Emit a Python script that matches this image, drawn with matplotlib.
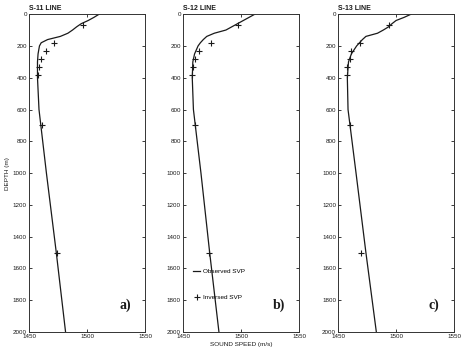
"""Observed vs inversed sound speed profiles for three survey lines."""

import matplotlib

matplotlib.use("Agg")
import matplotlib.pyplot as plt

plt.rcParams["font.family"] = ["Liberation Sans", "DejaVu Sans"]

# observed SVP (depth in m, sound speed in m/s)
obs_depth = [0, 20, 40, 60, 80, 100, 120, 140, 160, 180, 200, 250, 300, 400, 600, 1000, 1500, 2000]
s11_obs = [1510.5, 1506, 1501, 1495, 1491, 1487.5, 1483.5, 1477, 1466, 1460.5, 1459,
           1457.8, 1457.3, 1457.3, 1458.6, 1465, 1473.5, 1481.5]
s12_obs = [1512, 1507, 1502, 1497, 1492, 1487, 1477, 1470.5, 1467.5, 1465, 1463,
           1460, 1458.5, 1458, 1459, 1465.5, 1473, 1481]
s13_obs = [1513, 1507, 1500, 1496.5, 1493.5, 1489, 1484, 1474, 1471, 1468.5, 1466,
           1461.5, 1459, 1458, 1458.6, 1465.5, 1474, 1483]

# inversed SVP points
inv_depth = [70, 180, 230, 280, 330, 380, 700, 1500]
s11_inv = [1496.5, 1471.7, 1465, 1460.2, 1458.5, 1458, 1461.5, 1474]
s12_inv = [1497, 1474, 1463.5, 1460.2, 1458.5, 1458, 1460.3, 1472.5]
s13_inv = [1494, 1469, 1461, 1460, 1458, 1457.5, 1460.6, 1469.8]

titles = ["S-11 LINE", "S-12 LINE", "S-13 LINE"]
panel_tags = ["a)", "b)", "c)"]
x_ticks = [1450, 1500, 1550]
y_ticks = list(range(0, 2001, 200))

fig = plt.figure(figsize=(4.65, 3.52), dpi=100)
lefts = [0.0624, 0.3935, 0.727]
ink = "#1a1a1a"

for i, (obs, inv) in enumerate([(s11_obs, s11_inv), (s12_obs, s12_inv), (s13_obs, s13_inv)]):
    ax = fig.add_axes([lefts[i], 0.0568, 0.2495, 0.903])
    line, = ax.plot(obs, obs_depth, color=ink, linewidth=0.9, label="Observed SVP")
    pts, = ax.plot(inv, inv_depth, linestyle="none", marker="+", markersize=4.5,
                   markeredgewidth=0.8, color=ink, label="Inversed SVP")
    ax.set_xlim(1450, 1550)
    ax.set_ylim(2000, 0)
    ax.set_xticks(x_ticks)
    ax.set_yticks(y_ticks)
    ax.tick_params(direction="in", length=2.5, width=0.6, labelsize=4.5, pad=1.5,
                   top=True, right=True, colors=ink)
    for spine in ax.spines.values():
        spine.set_linewidth(0.7)
        spine.set_color("#333333")
    ax.set_title(titles[i], loc="left", fontsize=5, fontweight="semibold", pad=3, color=ink)
    ax.text(1533, 1830, panel_tags[i], fontsize=10, fontweight="bold",
            family=["Liberation Serif", "DejaVu Serif"], ha="center", va="center", color=ink)
    if i == 0:
        ax.set_ylabel("DEPTH (m)", fontsize=4.6, labelpad=2, color=ink)
    if i == 1:
        ax.set_xlabel("SOUND SPEED (m/s)", fontsize=4.6, labelpad=2, color=ink)
        ax.legend(handles=[line, pts], loc="center left", bbox_to_anchor=(0.09, 0.15),
                  frameon=False, fontsize=4.6, labelspacing=3.2, handlelength=1.1,
                  handletextpad=0.4, borderpad=0, borderaxespad=0)

fig.savefig("out.png", dpi=100)
